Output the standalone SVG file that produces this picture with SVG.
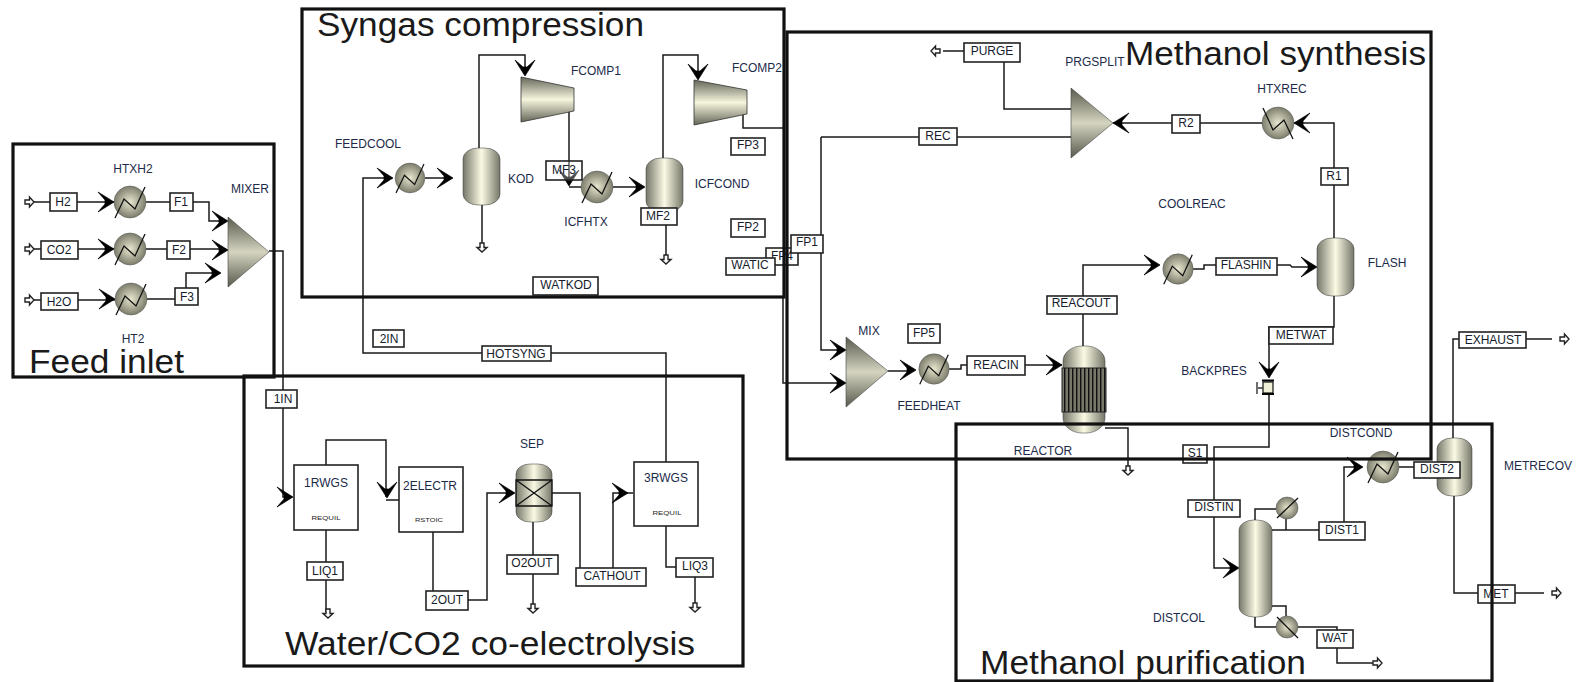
<svg xmlns="http://www.w3.org/2000/svg" width="1580" height="682" viewBox="0 0 1580 682">
<style>
text{font-family:"Liberation Sans",Arial,sans-serif}
.l{font-size:12px;fill:#1c2b4a;text-anchor:middle}
.s{font-size:12px;fill:#151c2c;text-anchor:middle}
.t{font-size:33px;fill:#1a1a1a}
.m{font-size:5px;fill:#222;text-anchor:middle}
.b{fill:#fff;stroke:#222;stroke-width:1.6}
.c{fill:none;stroke:#1a1a1a;stroke-width:1.5}
.f{fill:none;stroke:#111;stroke-width:3.2}
.e{stroke:#333;stroke-width:.5}
.z{fill:none;stroke:#111;stroke-width:1.3}
</style>
<defs>
<linearGradient id="gv" x1="0" x2="1" y1="0" y2="0"><stop offset="0" stop-color="#77776a"/><stop offset=".5" stop-color="#fafae4"/><stop offset="1" stop-color="#77776a"/></linearGradient>
<linearGradient id="gt" x1="0" x2="0" y1="0" y2="1"><stop offset="0" stop-color="#5a5a4e"/><stop offset=".5" stop-color="#d4d4c0"/><stop offset="1" stop-color="#5a5a4e"/></linearGradient>
<linearGradient id="gc" x1="0" x2="0" y1="0" y2="1"><stop offset="0" stop-color="#66665a"/><stop offset=".5" stop-color="#f6f6de"/><stop offset="1" stop-color="#66665a"/></linearGradient>
<radialGradient id="gh"><stop offset="0" stop-color="#e8e8d0"/><stop offset="1" stop-color="#7d7d6c"/></radialGradient>
<pattern id="st" width="4" height="10" patternUnits="userSpaceOnUse"><rect width="4" height="10" fill="#77776a"/><rect width="1.4" height="10" fill="#111"/></pattern>
<path id="a" d="M0 0L-16-10-9-2-9 2-16 10Z" fill="#000" stroke="#000" stroke-width=".7"/>
<path id="o" d="M-8-2H-3.500V-5L1 0-3.500 5V2H-8Z" fill="#fff" stroke="#222" stroke-width="1.4"/>
<g id="hx"><circle r="16" fill="url(#gh)" stroke="#555" stroke-width=".5"/><path class="z" d="M-15 16L-6-3 5 7 15-15"/></g>
</defs>

<g id="connectors">
<path class="c" d="M33 202H114M146 202H209V221H225M33 249H114M146 249H226M33 300H115M147 299H186V273H219M269 251H283V497H292M326 465V440H386V497M386 500H399M433 532V600H487V493H513M552 493H580V570M613 570V493H626M633 493H626M666 525V567H676M666 462V353H363V178H392M326 530V612M533 522V606M695 577V606"/>
<path class="c" d="M425 178H451M479 148V55H525V74M482 205V246M569 111V185M569 187H582M612 187H644M663 158V55H698V78M666 225V258M743 114V128H783M783 297V383H844"/>
<path class="c" d="M943 51H1004M1004 62V109H1071M821 137H1071M821 137V350H844M888 371H914M949 369H961V365H1062M1083 346V265H1158M1193 269H1204V265H1290L1292 267H1315M1113 123H1262M1294 123H1334V238M1334 296V327H1269V376M1269 395V447H1214V568H1237M1105 428H1128V466"/>
<path class="c" d="M1255 520V509H1276M1272 530H1319M1286 518V530M1255 617V627H1276M1272 606H1286V616M1298 627H1337V663H1373M1344 522V467H1361M1399 467H1437M1453 438V339H1552M1454 496V593H1544"/>
<g id="arrowheads">
<use href="#a" transform="translate(114 202)"/><use href="#a" transform="translate(114 249)"/><use href="#a" transform="translate(115 299)"/>
<use href="#a" transform="translate(228 221)"/><use href="#a" transform="translate(228 250)"/><use href="#a" transform="translate(221 273)"/>
<use href="#a" transform="translate(293 497)"/><use href="#a" transform="translate(387 498) rotate(90)"/><use href="#a" transform="translate(515 493)"/><use href="#a" transform="translate(628 493)"/>
<use href="#a" transform="translate(393 178)"/><use href="#a" transform="translate(453 178)"/><use href="#a" transform="translate(525 76) rotate(90)"/><use href="#a" transform="translate(569 186) rotate(90)"/><use href="#a" transform="translate(645 187)"/><use href="#a" transform="translate(698 80) rotate(90)"/>
<use href="#a" transform="translate(846 350)"/><use href="#a" transform="translate(846 383)"/><use href="#a" transform="translate(916 370)"/><use href="#a" transform="translate(1062 365)"/><use href="#a" transform="translate(1160 265)"/><use href="#a" transform="translate(1317 267)"/>
<use href="#a" transform="translate(1113 123) rotate(180)"/><use href="#a" transform="translate(1294 123) rotate(180)"/><use href="#a" transform="translate(1269 378) rotate(90)"/><use href="#a" transform="translate(1239 568)"/><use href="#a" transform="translate(1363 467)"/>
<use href="#o" transform="translate(33 202)"/><use href="#o" transform="translate(33 249)"/><use href="#o" transform="translate(33 300)"/>
<use href="#o" transform="translate(328 617) rotate(90)"/><use href="#o" transform="translate(533 612) rotate(90)"/><use href="#o" transform="translate(695 611) rotate(90)"/>
<use href="#o" transform="translate(482 251) rotate(90)"/><use href="#o" transform="translate(666 263) rotate(90)"/>
<use href="#o" transform="translate(932 51) rotate(180)"/><use href="#o" transform="translate(1128 474) rotate(90)"/>
<use href="#o" transform="translate(1381 663)"/><use href="#o" transform="translate(1568 339)"/><use href="#o" transform="translate(1560 593)"/>
</g>
</g>

<g id="HTXH2"><use href="#hx" transform="translate(130 202)"/><text class="l" x="133" y="173">HTXH2</text></g>
<g id="HTX2"><use href="#hx" transform="translate(130 249)"/></g>
<g id="HT2"><use href="#hx" transform="translate(131 299)"/><text class="l" x="133" y="343">HT2</text></g>
<g id="MIXER"><path d="M228 217L269 252 228 287Z" fill="url(#gt)" stroke="#444" stroke-width=".6"/><text class="l" x="250" y="193">MIXER</text></g>
<g id="FEEDCOOL"><use href="#hx" transform="translate(410 178) scale(.93)"/><text class="l" x="368" y="148">FEEDCOOL</text></g>
<g id="KOD"><rect x="463" y="148" width="37" height="57" rx="15" ry="11" fill="url(#gv)" class="e"/><text class="l" x="521" y="183">KOD</text></g>
<g id="FCOMP1"><path d="M521 77L574 88V111L521 122Z" fill="url(#gc)" stroke="#333" stroke-width=".8"/><text class="l" x="596" y="75">FCOMP1</text></g>
<g id="ICFHTX"><use href="#hx" transform="translate(597 187)"/><text class="l" x="586" y="226">ICFHTX</text></g>
<g id="ICFCOND"><rect x="646" y="158" width="37" height="54" rx="15" ry="11" fill="url(#gv)" class="e"/><text class="l" x="722" y="188">ICFCOND</text></g>
<g id="FCOMP2"><path d="M694 80L747 90V114L694 125Z" fill="url(#gc)" stroke="#333" stroke-width=".8"/><text class="l" x="757" y="72">FCOMP2</text></g>

<g id="RWGS1"><rect class="b" x="294" y="465" width="64" height="65"/><text class="l" x="326" y="487">1RWGS</text><text class="m" x="326" y="520" textLength="29" lengthAdjust="spacingAndGlyphs">REQUIL</text></g>
<g id="ELECTR2"><rect class="b" x="399" y="467" width="64" height="65"/><text class="l" x="430" y="490">2ELECTR</text><text class="m" x="429" y="522" textLength="28" lengthAdjust="spacingAndGlyphs">RSTOIC</text></g>
<g id="SEP"><rect x="516" y="464" width="36" height="58" rx="14" ry="10" fill="url(#gv)" class="e"/><path class="z" d="M516 480H552V506H516ZM516 480L552 506M552 480L516 506"/><text class="l" x="532" y="448">SEP</text></g>
<g id="RWGS3"><rect class="b" x="634" y="462" width="64" height="64"/><text class="l" x="666" y="482">3RWGS</text><text class="m" x="667" y="515" textLength="29" lengthAdjust="spacingAndGlyphs">REQUIL</text></g>

<g id="PRGSPLIT"><path d="M1071 88L1113 123 1071 158Z" fill="url(#gt)" stroke="#444" stroke-width=".6"/><text class="l" x="1095" y="66">PRGSPLIT</text></g>
<g id="HTXREC"><use href="#hx" transform="translate(1278 123) scale(-1 1)"/><text class="l" x="1282" y="93">HTXREC</text></g>
<g id="COOLREAC"><use href="#hx" transform="translate(1178 269) scale(.95)"/><text class="l" x="1192" y="208">COOLREAC</text></g>
<g id="FLASH"><rect x="1317" y="238" width="37" height="58" rx="15" ry="11" fill="url(#gv)" class="e"/><text class="l" x="1387" y="267">FLASH</text></g>
<g id="MIX"><path d="M846 337L888 371 846 407Z" fill="url(#gt)" stroke="#444" stroke-width=".6"/><text class="l" x="869" y="335">MIX</text></g>
<g id="FEEDHEAT"><use href="#hx" transform="translate(934 369) scale(.95)"/><text class="l" x="929" y="410">FEEDHEAT</text></g>
<g id="REACTOR"><rect x="1063" y="346" width="42" height="87" rx="19" ry="15" fill="url(#gv)" class="e"/><rect x="1062" y="368" width="44" height="44" fill="url(#st)" stroke="#222"/><text class="l" x="1043" y="455">REACTOR</text></g>
<g id="BACKPRES"><rect x="1263" y="382" width="10" height="11" fill="#f0f0d8" stroke="#111" stroke-width="1.2"/><path d="M1262 380.500H1274M1262 394H1274" stroke="#000" stroke-width="2"/><path d="M1257 382V394M1258 388H1263" stroke="#333" stroke-width="1.4"/><text class="l" x="1214" y="375">BACKPRES</text></g>

<g id="DISTCOL"><rect x="1239" y="520" width="33" height="97" rx="15" ry="10" fill="url(#gv)" class="e"/><text class="l" x="1179" y="622">DISTCOL</text></g>
<g id="COND"><circle cx="1287" cy="508" r="11" fill="url(#gh)" stroke="#555" stroke-width=".5"/><path class="z" d="M1277 518L1298 498"/></g>
<g id="REB"><circle cx="1287" cy="627" r="11" fill="url(#gh)" stroke="#555" stroke-width=".5"/><path class="z" d="M1277 617L1298 638"/></g>
<g id="DISTCOND"><use href="#hx" transform="translate(1383 467)"/><text class="l" x="1361" y="437">DISTCOND</text></g>
<g id="METRECOV"><rect x="1437" y="438" width="35" height="58" rx="15" ry="11" fill="url(#gv)" class="e"/><text class="l" x="1538" y="470">METRECOV</text></g>

<g id="streams">
<rect class="b" x="50" y="193" width="27" height="18"/><text class="s" x="63" y="206">H2</text>
<rect class="b" x="170" y="193" width="23" height="18"/><text class="s" x="181" y="206">F1</text>
<rect class="b" x="41" y="241" width="37" height="18"/><text class="s" x="59" y="254">CO2</text>
<rect class="b" x="167" y="241" width="23" height="18"/><text class="s" x="179" y="254">F2</text>
<rect class="b" x="41" y="293" width="37" height="17"/><text class="s" x="59" y="306">H2O</text>
<rect class="b" x="175" y="288" width="23" height="17"/><text class="s" x="187" y="301">F3</text>
<rect class="b" x="266" y="390" width="31" height="18"/><text class="s" x="283" y="403">1IN</text>
<rect class="b" x="373" y="330" width="31" height="17"/><text class="s" x="389" y="343">2IN</text>
<rect class="b" x="482" y="346" width="69" height="15"/><text class="s" x="516" y="358">HOTSYNG</text>
<rect class="b" x="307" y="562" width="36" height="18"/><text class="s" x="325" y="575">LIQ1</text>
<rect class="b" x="426" y="591" width="42" height="19"/><text class="s" x="447" y="604">2OUT</text>
<rect class="b" x="507" y="555" width="51" height="19"/><text class="s" x="532" y="567">O2OUT</text>
<rect class="b" x="576" y="568" width="70" height="18"/><text class="s" x="612" y="580">CATHOUT</text>
<rect class="b" x="676" y="558" width="37" height="19"/><text class="s" x="695" y="570">LIQ3</text>
<rect class="b" x="546" y="161" width="36" height="19" fill-opacity=".3"/><text class="s" x="564" y="174">MF3</text>
<rect class="b" x="641" y="208" width="36" height="17"/><text class="s" x="658" y="220">MF2</text>
<rect class="b" x="533" y="277" width="65" height="18"/><text class="s" x="566" y="289">WATKOD</text>
<rect class="b" x="731" y="138" width="34" height="17"/><text class="s" x="748" y="149">FP3</text>
<rect class="b" x="731" y="219" width="34" height="18"/><text class="s" x="748" y="231">FP2</text>
<rect class="b" x="766" y="248" width="32" height="17"/><text class="s" x="782" y="260">FP4</text>
<rect class="b" x="726" y="258" width="49" height="17"/><text class="s" x="750" y="269">WATIC</text>
<rect class="b" x="791" y="235" width="32" height="18"/><text class="s" x="807" y="246">FP1</text>
<rect class="b" x="964" y="43" width="56" height="19"/><text class="s" x="992" y="55">PURGE</text>
<rect class="b" x="919" y="128" width="38" height="17"/><text class="s" x="938" y="140">REC</text>
<rect class="b" x="1172" y="115" width="28" height="18"/><text class="s" x="1186" y="127">R2</text>
<rect class="b" x="1321" y="168" width="27" height="17"/><text class="s" x="1334" y="180">R1</text>
<rect class="b" x="908" y="324" width="32" height="19"/><text class="s" x="924" y="337">FP5</text>
<rect class="b" x="967" y="356" width="58" height="19"/><text class="s" x="996" y="369">REACIN</text>
<rect class="b" x="1047" y="296" width="70" height="18"/><text class="s" x="1081" y="307">REACOUT</text>
<rect class="b" x="1216" y="258" width="61" height="17"/><text class="s" x="1246" y="269">FLASHIN</text>
<rect class="b" x="1269" y="327" width="64" height="17"/><text class="s" x="1301" y="339">METWAT</text>
<rect class="b" x="1183" y="445" width="24" height="18"/><text class="s" x="1195" y="457">S1</text>
<rect class="b" x="1188" y="500" width="52" height="17"/><text class="s" x="1214" y="511">DISTIN</text>
<rect class="b" x="1319" y="522" width="46" height="18"/><text class="s" x="1342" y="534">DIST1</text>
<rect class="b" x="1414" y="462" width="46" height="16"/><text class="s" x="1437" y="473">DIST2</text>
<rect class="b" x="1317" y="630" width="36" height="18"/><text class="s" x="1335" y="642">WAT</text>
<rect class="b" x="1459" y="332" width="67" height="16"/><text class="s" x="1493" y="344">EXHAUST</text>
<rect class="b" x="1478" y="585" width="37" height="18"/><text class="s" x="1496" y="598">MET</text>
</g>

<g id="frames">
<rect class="f" x="13" y="144" width="261" height="233"/>
<rect class="f" x="244" y="376" width="499" height="290"/>
<rect class="f" x="302" y="9" width="482" height="288"/>
<rect class="f" x="787" y="32" width="644" height="427"/>
<rect class="f" x="956" y="424" width="536" height="257"/>
<text class="t" x="29" y="373" textLength="155" lengthAdjust="spacingAndGlyphs">Feed inlet</text>
<text class="t" x="317" y="36" textLength="327" lengthAdjust="spacingAndGlyphs">Syngas compression</text>
<text class="t" x="285" y="655" textLength="410" lengthAdjust="spacingAndGlyphs">Water/CO2 co-electrolysis</text>
<text class="t" x="1125" y="65" textLength="301" lengthAdjust="spacingAndGlyphs">Methanol synthesis</text>
<text class="t" x="980" y="674" textLength="326" lengthAdjust="spacingAndGlyphs">Methanol purification</text>
</g>
</svg>
